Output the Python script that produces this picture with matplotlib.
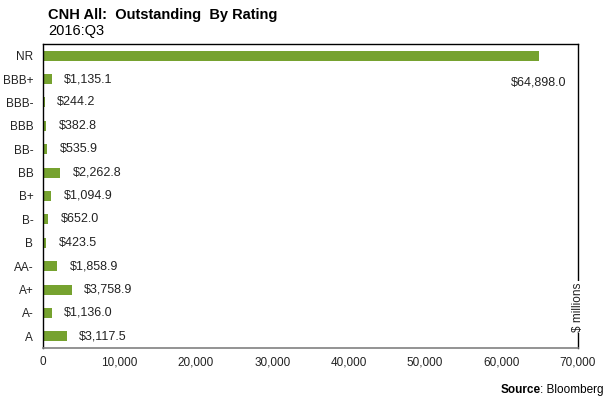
import matplotlib.pyplot as plt
import matplotlib.ticker as mticker

plt.rcParams['font.family'] = ['Liberation Sans', 'DejaVu Sans']

# outstanding CNH bonds by rating, $ millions
ratings = ['NR', 'BBB+', 'BBB-', 'BBB', 'BB-', 'BB', 'B+', 'B-', 'B', 'AA-', 'A+', 'A-', 'A']
amounts = [64898.0, 1135.1, 244.2, 382.8, 535.9, 2262.8, 1094.9, 652.0, 423.5, 1858.9, 3758.9, 1136.0, 3117.5]
xticks = [0, 10000, 20000, 30000, 40000, 50000, 60000, 70000]

green = '#76a22f'

fig = plt.figure(figsize=(6.09, 4.03), dpi=100)
ax = fig.add_axes([43/609, 1 - 348/403, (578 - 43)/609, (348 - 44)/403])

ypos = list(range(len(ratings)))
ax.barh(ypos, amounts, height=0.43, color=green)
ax.set_ylim(len(ratings) - 0.5, -0.5)
ax.set_xlim(0, 70000)
ax.set_yticks(ypos)
ax.set_yticklabels(ratings, fontsize=8.5)
ax.set_xticks(xticks)
ax.xaxis.set_major_formatter(mticker.FuncFormatter(lambda v, p: f'{v:,.0f}'))
ax.tick_params(length=0, labelsize=8.5, colors='#222222')
ax.tick_params(axis='x', pad=6)
ax.tick_params(axis='y', pad=7)

for s in ['top', 'left', 'right']:
    ax.spines[s].set_color('black')
    ax.spines[s].set_linewidth(1)
ax.spines['bottom'].set_color('#808080')
ax.spines['bottom'].set_linewidth(1.2)

for y, v in zip(ypos, amounts):
    lbl = f'${v:,.1f}'
    if v > 30000:
        ax.annotate(lbl, (v, y), xytext=(0, -19), textcoords='offset points',
                    ha='center', va='center', fontsize=9, color='#222222')
    else:
        ax.annotate(lbl, (v, y), xytext=(9, 0), textcoords='offset points',
                    ha='left', va='center', fontsize=9, color='#222222')

fig.text(48/609, 1 - 15/403, 'CNH All:  Outstanding  By Rating', fontsize=10.5,
         fontweight='bold', va='center', ha='left')
fig.text(48/609, 1 - 31/403, '2016:Q3', fontsize=10.5, va='center', ha='left')

ax.text(1.0, 0.135, '$ millions', transform=ax.transAxes, rotation=90,
        ha='center', va='center', fontsize=8.5, color='#222222',
        bbox=dict(facecolor='white', edgecolor='none', pad=1))

# source line: bold "Source" directly before the plain part
src = fig.text(604/609, 1 - 390/403, ': Bloomberg', fontsize=8.5, ha='right', va='center')
fig.canvas.draw()
bb = src.get_window_extent()
fig.text(bb.x0 / fig.bbox.width, 1 - 390/403, 'Source', fontsize=8.5,
         fontweight='bold', ha='right', va='center')

fig.savefig('out.png', dpi=100)
